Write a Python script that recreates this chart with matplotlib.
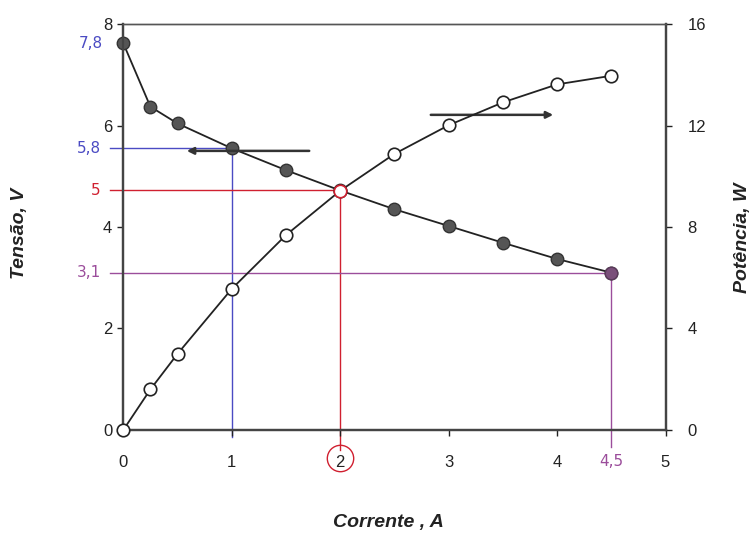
import numpy as np
import matplotlib
matplotlib.use('Agg')
import matplotlib.pyplot as plt
from matplotlib import transforms

plt.rcParams['font.family'] = ['Liberation Sans', 'DejaVu Sans']

# ---- data ------------------------------------------------------------------
corrente = [0.0, 0.25, 0.5, 1.0, 1.5, 2.0, 2.5, 3.0, 3.5, 4.0, 4.5]
tensao = [7.62, 6.37, 6.04, 5.55, 5.12, 4.72, 4.35, 4.02, 3.69, 3.37, 3.10]
potencia = [0.0, 1.60, 3.00, 5.56, 7.68, 9.43, 10.88, 12.01, 12.91, 13.62, 13.96]

x_ticks = [0, 1, 2, 3, 4, 5]
v_ticks = [0, 2, 4, 6, 8]
p_ticks = [0, 4, 8, 12, 16]

# hand-written marks: (point index, label, colour)
blue, red, purple = '#4b4bc3', '#d02030', '#9b4d9b'
marks = [(3, '5,8', blue), (5, '5', red), (10, '3,1', purple)]
label_v0 = '7,8'
label_x45 = '4,5'

fig = plt.figure(figsize=(7.56, 5.36), dpi=100)
ax = fig.add_axes([0.1631, 0.1978, 0.7172, 0.7574])
ax2 = ax.twinx()

ax.set_xlim(0, 5)
ax.set_ylim(0, 8)
ax2.set_ylim(0, 16)

for a in (ax, ax2):
    a.spines['top'].set_linestyle((0, (1, 1)))
    a.spines['top'].set_linewidth(1.0)
    a.spines['top'].set_color('#555555')
    for s in ('left', 'right', 'bottom'):
        a.spines[s].set_color('#444444')
        a.spines[s].set_linewidth(1.6)

ax.set_xticks(x_ticks)
ax.set_yticks(v_ticks)
ax2.set_yticks(p_ticks)
ax.tick_params(axis='y', labelsize=12, colors='#222222', length=4, width=1,
               pad=4)
ax.tick_params(axis='x', labelsize=12, colors='#222222', length=4, width=1,
               pad=14)
ax2.tick_params(axis='y', labelsize=12, colors='#222222', length=4, width=1,
                pad=12)

# helper lines to the axes
xm = -0.12
lines_style = dict(lw=1.0, clip_on=False, zorder=1)
ax.plot([xm, corrente[3]], [tensao[3]] * 2, color=blue, **lines_style)
ax.plot([corrente[3]] * 2, [-0.14, tensao[3]], color=blue, **lines_style)
ax.plot([xm, corrente[5]], [tensao[5]] * 2, color=red, **lines_style)
ax.plot([corrente[5]] * 2, [-0.40, tensao[5]], color=red, **lines_style)
ax.plot([xm, corrente[10]], [tensao[10]] * 2, color=purple, **lines_style)
ax.plot([corrente[10]] * 2, [-0.33, tensao[10]], color=purple, **lines_style)

# curves
ax.plot(corrente, tensao, color='#222222', lw=1.3, zorder=2, clip_on=False)
ax.plot(corrente, tensao, 'o', ms=9, mfc='#555555', mec='#333333', mew=1.0,
        zorder=3, clip_on=False)
ax2.plot(corrente, potencia, color='#222222', lw=1.3, zorder=2, clip_on=False)
ax2.plot(corrente, potencia, 'o', ms=9, mfc='white', mec='#222222', mew=1.2,
         zorder=3, clip_on=False)
ax2.plot([corrente[5]], [potencia[5]], 'o', ms=9, mfc='white', mec=red,
         mew=1.2, zorder=4)
ax.plot([corrente[10]], [tensao[10]], 'o', ms=9, mfc='#7a4f7a',
        mec='#5a3a5a', mew=1.0, zorder=5)

# arrows pointing to each axis
ax.annotate('', xy=(0.56, 5.50), xytext=(1.74, 5.50),
            arrowprops=dict(arrowstyle='-|>', color='#333333', lw=1.8,
                            mutation_scale=10))
ax.annotate('', xy=(3.99, 6.21), xytext=(2.81, 6.21),
            arrowprops=dict(arrowstyle='-|>', color='#333333', lw=1.8,
                            mutation_scale=10))

# coloured annotations
tr_y = transforms.blended_transform_factory(fig.transFigure, ax.transData)
ax.text(103 / 756, tensao[0], label_v0, transform=tr_y, color=blue,
        fontsize=11, ha='right', va='center', family='DejaVu Sans')
for i, lab, col in marks:
    ax.text(101 / 756, tensao[i], lab, transform=tr_y, color=col,
            fontsize=11, ha='right', va='center', family='DejaVu Sans')

tr_x = transforms.blended_transform_factory(ax.transData, fig.transFigure)
ax.text(corrente[10], 1 - 461 / 536, label_x45, transform=tr_x, color=purple,
        fontsize=11, ha='center', va='center', family='DejaVu Sans')
ax.plot([2], [1 - 458 / 536], 'o', transform=tr_x, ms=19, mfc='none',
        mec=red, mew=1.0, clip_on=False)

# axis titles
title_kw = dict(fontsize=14, fontweight='bold', style='italic',
                color='#222222', ha='center', va='center')
fig.text(20 / 756, 1 - 233 / 536, 'Tensão, V', rotation=90, **title_kw)
fig.text(742 / 756, 1 - 238 / 536, 'Potência, W', rotation=90, **title_kw)
fig.text(388 / 756, 1 - 522 / 536, 'Corrente , A', **title_kw)

fig.savefig('out.png', dpi=100)
